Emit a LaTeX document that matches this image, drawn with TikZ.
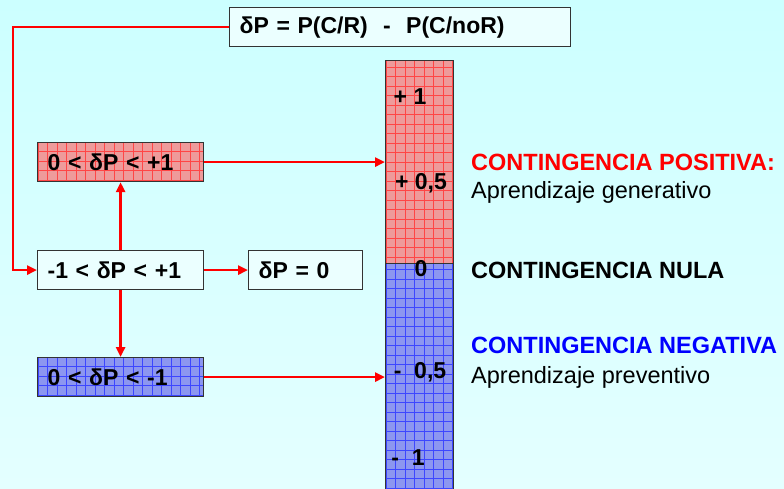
\documentclass[tikz,border=0pt]{standalone}
\usepackage{fontspec}
\setmainfont{Liberation Sans}
\usetikzlibrary{arrows.meta}
\definecolor{bgtop}{RGB}{204,255,255}
\definecolor{bgbot}{RGB}{228,255,255}
\definecolor{pinkfill}{RGB}{238,155,155}
\definecolor{pinkgrid}{RGB}{255,70,70}
\definecolor{bluefill}{RGB}{140,150,240}
\definecolor{bluegrid}{RGB}{60,70,255}
\definecolor{boxfill}{RGB}{235,255,255}
\definecolor{arrred}{RGB}{255,0,0}
\definecolor{negblue}{RGB}{0,0,255}
\tikzset{
  box/.style={draw=black!80, line width=1.2pt, anchor=north west, inner ysep=0pt, inner xsep=10pt,
    font=\fontsize{23}{26}\selectfont\bfseries, minimum height=39, align=left},
  plainbox/.style={box, fill=boxfill},
  pinkbox/.style={box, fill=pinkfill, path picture={\draw[pinkgrid, line width=0.5pt] (path picture bounding box.south west) grid[step=9.5] (path picture bounding box.north east);}},
  bluebox/.style={box, fill=bluefill, path picture={\draw[bluegrid, line width=0.5pt] (path picture bounding box.south west) grid[step=9.5] (path picture bounding box.north east);}},
  redarrow/.style={draw=arrred, line width=2.6pt, -{Triangle[length=10pt,width=9pt]}},
  scalelbl/.style={font=\fontsize{23}{26}\selectfont\bfseries, inner sep=0pt},
  ctext/.style={anchor=west, inner sep=0pt, font=\fontsize{23.5}{27}\selectfont\bfseries},
  rtext/.style={anchor=west, inner sep=0pt, font=\fontsize{23.5}{27}\selectfont}
}
\begin{document}
\begin{tikzpicture}[x=1pt,y=1pt]
\shade[top color=bgtop, bottom color=bgbot] (0,0) rectangle (784,-488);
\useasboundingbox (0,0) rectangle (784,-488);
% top box
\node[plainbox, minimum width=341, text width=321, inner xsep=8pt] (top) at (229,-7) {δP = P(C/R)\ \ -\ \ P(C/noR)};
% left boxes
\node[pinkbox, minimum width=166, text width=146] (pos) at (37,-142) {0 < δP < +1};
\node[plainbox, minimum width=166, text width=146] (mid) at (37,-250) {-1 < δP < +1};
\node[plainbox, minimum width=114, text width=94] (zero) at (248,-250) {δP = 0};
\node[bluebox, minimum width=166, text width=146] (neg) at (37,-357) {0 < δP < -1};
% column
\node[pinkbox, minimum width=68, minimum height=203, text width=48] (colpos) at (385,-60) {};
\node[bluebox, minimum width=68, minimum height=240, text width=48] (colneg) at (385,-263) {};
\node[scalelbl] (l1) at (410,-97) {+ 1};
\node[scalelbl] (l2) at (421,-183) {+ 0,5};
\node[scalelbl] (l3) at (421,-269) {0};
\node[scalelbl] (l4) at (420,-372) {-\ \ 0,5};
\node[scalelbl] (l5) at (408,-458) {-\ \ 1};
% connectors
\draw[redarrow] (top.west) -- (top.west -| 13,0) |- (mid.west);
\draw[redarrow] (mid.north) -- (pos.south);
\draw[redarrow] (mid.south) -- (neg.north);
\draw[redarrow] (mid.east) -- (zero.west);
\draw[redarrow] (pos.east) -- (pos.east -| colpos.west);
\draw[redarrow] (neg.east) -- (neg.east -| colneg.west);
% right texts
\node[ctext, text=arrred] (cp) at (471,-162) {CONTINGENCIA POSITIVA:};
\node[rtext] (ag) at (471,-192) {Aprendizaje generativo};
\node[ctext] (cn) at (471,-270) {CONTINGENCIA NULA};
\node[ctext, text=negblue] (cneg) at (471,-345) {CONTINGENCIA NEGATIVA};
\node[rtext] (ap) at (471,-377) {Aprendizaje preventivo};
\end{tikzpicture}
\end{document}
